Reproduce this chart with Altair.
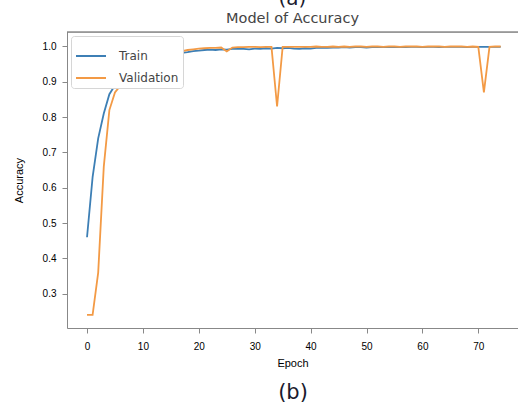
import altair as alt
import pandas as pd

epochs = list(range(75))
train = [0.46, 0.63, 0.74, 0.81, 0.865, 0.89, 0.905, 0.92, 0.932, 0.942,
         0.952, 0.958, 0.964, 0.969, 0.973, 0.976, 0.979, 0.982, 0.984, 0.987,
         0.988, 0.99, 0.991, 0.99, 0.992, 0.991, 0.993, 0.994, 0.993, 0.992,
         0.994, 0.993, 0.995, 0.994, 0.996, 0.995, 0.996, 0.994, 0.993, 0.995,
         0.994, 0.996, 0.997, 0.996, 0.997, 0.997, 0.998, 0.997, 0.998, 0.998,
         0.997, 0.998, 0.998, 0.999, 0.998, 0.998, 0.999, 0.998, 0.999, 0.999,
         0.998, 0.999, 0.999, 0.998, 0.999, 0.999, 0.999, 0.999, 0.998, 0.999,
         0.999, 0.999, 0.999, 0.999, 0.999]
validation = [0.24, 0.24, 0.36, 0.66, 0.82, 0.87, 0.89, 0.91, 0.928, 0.94,
              0.952, 0.96, 0.967, 0.972, 0.977, 0.98, 0.984, 0.987, 0.99, 0.992,
              0.994, 0.995, 0.996, 0.996, 0.997, 0.986, 0.997, 0.998, 0.998, 0.999,
              0.999, 0.998, 0.999, 0.999, 0.83, 0.999, 0.999, 0.999, 0.999, 0.999,
              0.999, 1.0, 0.999, 0.999, 1.0, 0.999, 1.0, 0.999, 1.0, 1.0,
              0.999, 1.0, 1.0, 0.999, 1.0, 1.0, 0.999, 1.0, 1.0, 1.0,
              0.999, 1.0, 1.0, 1.0, 0.999, 1.0, 1.0, 1.0, 0.999, 1.0,
              0.999, 0.87, 0.999, 1.0, 1.0]
series_names = ["Train", "Validation"]
x_ticks = [0, 10, 20, 30, 40, 50, 60, 70]
y_ticks = [0.3, 0.4, 0.5, 0.6, 0.7, 0.8, 0.9, 1.0]

df = pd.DataFrame({
    "Epoch": epochs + epochs,
    "Accuracy": train + validation,
    "Series": [series_names[0]] * len(epochs) + [series_names[1]] * len(epochs),
})

W, H = 451, 296
BLUE = "#3d7fb5"
ORANGE = "#f39a45"
GREY = "#555555"
FONT = "DejaVu Sans"

lines = alt.Chart(df).mark_line(strokeWidth=1.8, clip=True).encode(
    x=alt.X("Epoch:Q",
            scale=alt.Scale(domain=[-3.58, 77.1], nice=False, zero=False),
            axis=alt.Axis(values=x_ticks, title="Epoch", grid=False, tickSize=5,
                          labelPadding=8, titlePadding=6, format="d",
                          titleFontWeight="normal")),
    y=alt.Y("Accuracy:Q",
            scale=alt.Scale(domain=[0.203, 1.041], nice=False, zero=False),
            axis=alt.Axis(values=y_ticks, title="Accuracy", grid=False, tickSize=5,
                          labelPadding=6, titlePadding=18, format=".1f",
                          titleFontWeight="normal")),
    color=alt.Color("Series:N",
                    scale=alt.Scale(domain=series_names, range=[BLUE, ORANGE]),
                    legend=alt.Legend(title=None, orient="top-left", offset=4,
                                      symbolType="stroke", symbolStrokeWidth=2,
                                      symbolSize=900, labelFontSize=12,
                                      labelColor="#444444", labelFont=FONT,
                                      fillColor="white", strokeColor="#d6d6d6",
                                      cornerRadius=3, padding=4, rowPadding=0,
                                      labelOffset=12)),
)

one = pd.DataFrame({"k": [0]})
frame_top = alt.Chart(one).mark_rule(color=GREY, strokeWidth=1).encode(
    x=alt.value(0), x2=alt.value(W), y=alt.value(0))

label_b = alt.Chart(one).mark_text(font=FONT, fontSize=21, color="#1a1a2e",
                                   baseline="middle").encode(
    x=alt.value(226), y=alt.value(361), text=alt.value("(b)"))

chart = alt.layer(lines, frame_top, label_b).properties(
    width=W, height=H,
    title=alt.Title("(a)", subtitle="Model of Accuracy", fontSize=20, font=FONT,
                    color="#1a1a2e", fontWeight="normal", anchor="middle",
                    subtitleFontSize=14.5, subtitleFont=FONT, subtitleColor="#444444",
                    subtitlePadding=3, offset=6),
    autosize=alt.AutoSizeParams(type="none"),
    padding={"left": 67, "top": 32, "right": 0, "bottom": 81},
).configure_view(stroke=None).configure_axis(
    labelFont=FONT, labelFontSize=11, labelColor=GREY,
    titleFont=FONT, titleFontSize=11, titleFontWeight="normal", titleColor=GREY,
    tickColor=GREY, domainColor=GREY,
).configure(background="white")

chart.save("out.html", embed_options={"renderer": "svg", "actions": False})
